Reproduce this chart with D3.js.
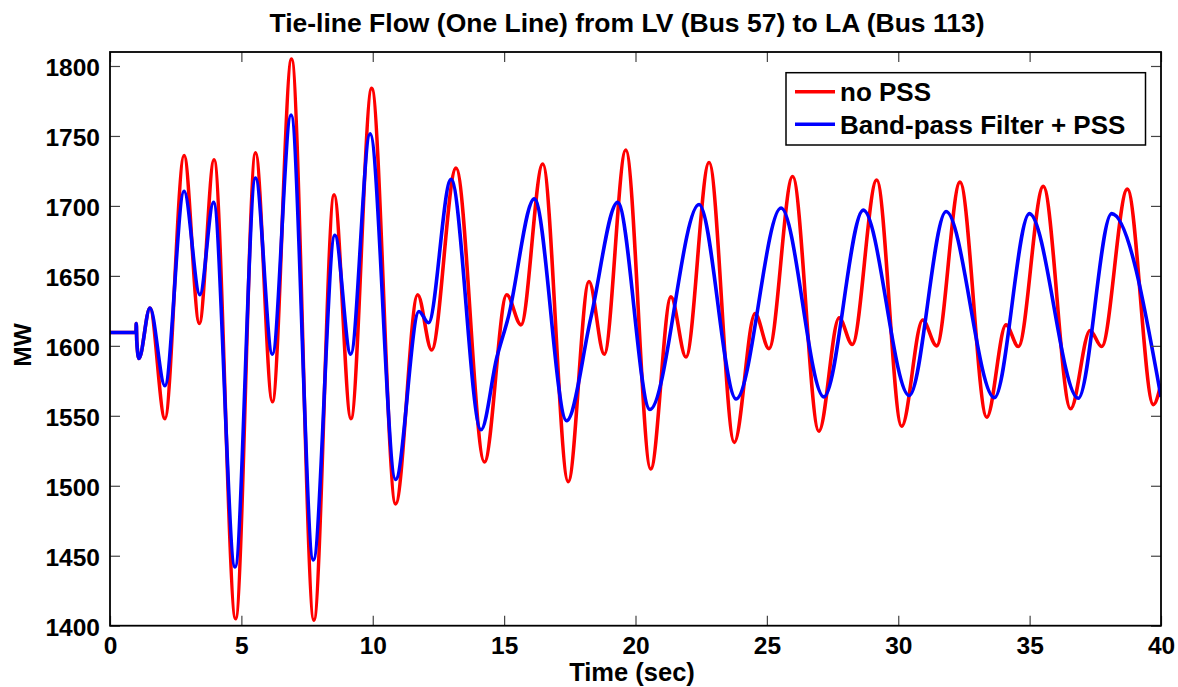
<!DOCTYPE html>
<html>
<head>
<meta charset="utf-8">
<script src="https://cdn.jsdelivr.net/npm/d3@7"></script>
<style>
  html, body { margin: 0; padding: 0; background: #fff; }
  svg { display: block; }
  text { font-family: "Liberation Sans", Arial, sans-serif; font-weight: bold; fill: #000; }
</style>
</head>
<body>
<svg id="chart" width="1178" height="687"></svg>
<script>
// ---- data ----
const titleText = "Tie-line Flow (One Line) from LV (Bus 57) to LA (Bus 113)";
const xLabel = "Time (sec)";
const yLabel = "MW";
const seriesNames = ["no PSS", "Band-pass Filter + PSS"];
const xTicks = [0, 5, 10, 15, 20, 25, 30, 35, 40];
const yTicks = [1400, 1450, 1500, 1550, 1600, 1650, 1700, 1750, 1800];

const noPssT  = [0, 0.99, 1.0, 1.02, 1.1, 1.52, 2.09, 2.82, 3.40, 3.96, 4.78, 5.54, 6.18, 6.91, 7.76, 8.53, 9.17, 9.96, 10.87, 11.71, 12.24, 13.17, 14.25, 15.10, 15.64, 16.47, 17.44, 18.23, 18.81, 19.63, 20.58, 21.35, 21.92, 22.80, 23.76, 24.55, 25.08, 25.98, 26.98, 27.75, 28.25, 29.18, 30.13, 30.93, 31.46, 32.35, 33.37, 34.10, 34.57, 35.52, 36.56, 37.30, 37.74, 38.72, 39.71, 40];
const noPssMW = [1609.5, 1609.5, 1616, 1603, 1591, 1627, 1548, 1736, 1616, 1733, 1405, 1738, 1560, 1805, 1404, 1708, 1548, 1784, 1487, 1636.5, 1597, 1727, 1517, 1636.5, 1615, 1730, 1503, 1646, 1594, 1740, 1512, 1635, 1592, 1731, 1531, 1623, 1598, 1721, 1539, 1620, 1601, 1718.5, 1542.5, 1618.5, 1600, 1717, 1549, 1615, 1599.5, 1714, 1555, 1611, 1599.5, 1712, 1558, 1573];

const pssT  = [0, 0.99, 1.0, 1.02, 1.1, 1.52, 2.09, 2.82, 3.42, 3.94, 4.76, 5.54, 6.18, 6.89, 7.74, 8.56, 9.16, 9.90, 10.87, 11.76, 12.12, 12.98, 14.12, 14.72, 15.16, 16.15, 17.38, 18.3, 19.32, 20.55, 22.42, 23.83, 25.54, 27.17, 28.67, 30.42, 31.82, 33.66, 34.99, 36.85, 38.12, 40];
const pssMW = [1609.5, 1609.5, 1616, 1603, 1591, 1627, 1571.5, 1710.5, 1636.5, 1702.5, 1442, 1720, 1594, 1765, 1447, 1679, 1594, 1751.5, 1504.5, 1624.5, 1616.5, 1719, 1540, 1591.5, 1620.5, 1705, 1546.5, 1620, 1702.5, 1554.5, 1701, 1562, 1698.5, 1563.5, 1697, 1564.5, 1696, 1563, 1694.5, 1562.5, 1694.5, 1563.5];

// ---- layout ----
const svg = d3.select("#chart");
const L = 110, R = 1161, T = 52, B = 625.7;
const x = d3.scaleLinear().domain([0, 40]).range([L, R]);
const y = d3.scaleLinear().domain([1400, 1810]).range([B, T]);

svg.append("rect").attr("width", 1178).attr("height", 687).attr("fill", "#fff");

svg.append("defs").append("clipPath").attr("id", "clip")
  .append("rect").attr("x", L).attr("y", T).attr("width", R - L).attr("height", B - T);

const line = d3.line().x(d => x(d[0])).y(d => y(d[1])).curve(d3.curveMonotoneX);
const redData = noPssT.map((t, i) => [t, noPssMW[i]]);
const blueData = pssT.map((t, i) => [t, pssMW[i]]);

const plot = svg.append("g").attr("clip-path", "url(#clip)");
plot.append("path").datum(redData).attr("d", line)
  .attr("fill", "none").attr("stroke", "#ff0000").attr("stroke-width", 3.6).attr("stroke-linejoin", "round");
plot.append("path").datum(blueData).attr("d", line)
  .attr("fill", "none").attr("stroke", "#0000ff").attr("stroke-width", 3.6).attr("stroke-linejoin", "round");

// axes (MATLAB style: inward ticks on all four sides)
const tickLen = 10;
const xAxisB = d3.axisBottom(x).tickValues(xTicks).tickSize(-tickLen).tickPadding(11).tickFormat(d3.format("d"));
const xAxisT = d3.axisTop(x).tickValues(xTicks).tickSize(-tickLen).tickFormat("");
const yAxisL = d3.axisLeft(y).tickValues(yTicks).tickSize(-tickLen).tickPadding(10).tickFormat(d3.format("d"));
const yAxisR = d3.axisRight(y).tickValues(yTicks).tickSize(-tickLen).tickFormat("");

function style(g) {
  g.select(".domain").remove();
  g.selectAll(".tick line").attr("stroke", "#444").attr("stroke-width", 1.2);
  g.selectAll(".tick text").style("font-size", "24.5px").style("font-family", "'Liberation Sans', Arial, sans-serif").style("font-weight", "bold").attr("fill", "#000");
}
svg.append("g").attr("transform", `translate(0,${B})`).call(xAxisB).call(style)
  .selectAll(".tick text").attr("dy", "0.71em");
svg.append("g").attr("transform", `translate(0,${T})`).call(xAxisT).call(style);
svg.append("g").attr("transform", `translate(${L},0)`).call(yAxisL).call(style)
  .selectAll(".tick text").attr("dy", "0.4em");
svg.append("g").attr("transform", `translate(${R},0)`).call(yAxisR).call(style);

svg.append("rect").attr("x", L).attr("y", T).attr("width", R - L).attr("height", B - T)
  .attr("fill", "none").attr("stroke", "#000").attr("stroke-width", 1.8);

// title & labels
svg.append("text").attr("x", 627).attr("y", 31.5).attr("text-anchor", "middle")
  .style("font-size", "26.5px").text(titleText);
svg.append("text").attr("x", 632).attr("y", 680.5).attr("text-anchor", "middle")
  .style("font-size", "25.5px").text(xLabel);
svg.append("text").attr("transform", `translate(31,345) rotate(-90)`).attr("text-anchor", "middle")
  .style("font-size", "24.5px").text(yLabel);

// legend
const lg = svg.append("g");
lg.append("rect").attr("x", 786).attr("y", 72.7).attr("width", 359.5).attr("height", 72.3)
  .attr("fill", "#fff").attr("stroke", "#000").attr("stroke-width", 1.5);
const legColors = ["#ff0000", "#0000ff"];
const legY = [91.7, 124.3];
seriesNames.forEach((n, i) => {
  lg.append("line").attr("x1", 795).attr("x2", 835).attr("y1", legY[i]).attr("y2", legY[i])
    .attr("stroke", legColors[i]).attr("stroke-width", 3.6);
  lg.append("text").attr("x", 840).attr("y", legY[i] + 9.5)
    .style("font-size", "26px").text(n);
});
</script>
</body>
</html>
